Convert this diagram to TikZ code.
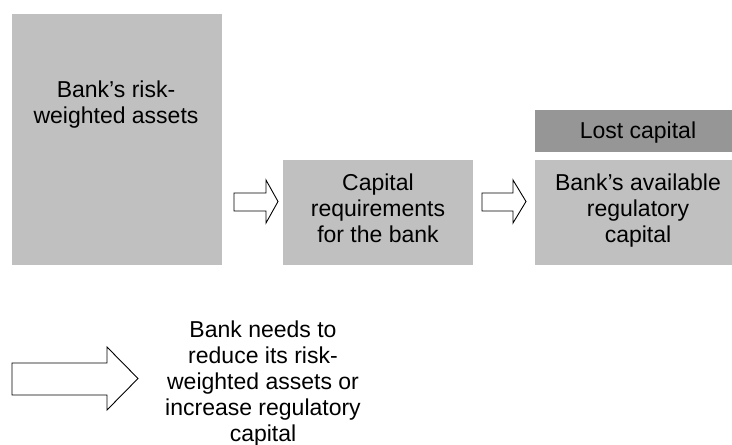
\documentclass[tikz,border=0pt]{standalone}
\usepackage{fontspec}
\setmainfont{Liberation Sans}
\definecolor{boxgray}{HTML}{C0C0C0}
\definecolor{lostgray}{HTML}{969696}
\begin{document}
\begin{tikzpicture}[x=1pt,y=-1pt,
  box/.style={fill=boxgray,draw=none,inner sep=0pt,anchor=north west},
  lostbox/.style={fill=lostgray,draw=none,inner sep=0pt,anchor=north west},
  lbl/.style={inner sep=0pt,anchor=north,align=center,font=\fontsize{23}{26}\selectfont},
  blockarrow/.style={draw=black,fill=white,line width=0.9pt,line join=miter}]
\useasboundingbox (0,0) rectangle (732,445);
% boxes
\node[box,minimum width=210pt,minimum height=251pt] (rwa) at (12,14) {};
\node[box,minimum width=190pt,minimum height=105pt] (req) at (283,160) {};
\node[lostbox,minimum width=197pt,minimum height=42pt] (lost) at (535,110) {};
\node[box,minimum width=197pt,minimum height=105pt] (avail) at (535,160) {};
% texts
\node[lbl] (rwatxt) at (116,78.8) {\strut Bank’s risk-\\weighted assets\strut};
\node[lbl] (reqtxt) at (378,171.8) {\strut Capital\\requirements\\for the bank\strut};
\node[lbl] (losttxt) at (638,119.8) {\strut Lost capital\strut};
\node[lbl] (availtxt) at (638,171.8) {\strut Bank’s available\\regulatory\\capital\strut};
\node[lbl] (needtxt) at (263,318.8) {\strut Bank needs to\\reduce its risk-\\weighted assets or\\increase regulatory\\capital\strut};
% block arrows
\draw[blockarrow] (234,193) -- (266,193) -- (266,180) -- (278,201.5) -- (266,223) -- (266,211) -- (234,211) -- cycle;
\draw[blockarrow] (482,193) -- (513,193) -- (513,180) -- (526,201.5) -- (513,223) -- (513,211) -- (482,211) -- cycle;
\draw[blockarrow] (12,363) -- (107,363) -- (107,347) -- (138,378.5) -- (107,410) -- (107,395) -- (12,395) -- cycle;
\end{tikzpicture}
\end{document}
